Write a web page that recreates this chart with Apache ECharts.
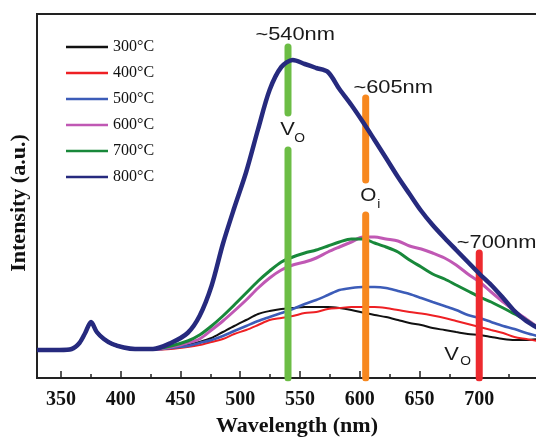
<!DOCTYPE html>
<html>
<head>
<meta charset="utf-8">
<script src="https://cdn.jsdelivr.net/npm/echarts@6/dist/echarts.min.js"></script>
<style>
  html, body { margin: 0; padding: 0; background: #fff; }
  #main { width: 536px; height: 440px; }
</style>
</head>
<body>
<div id="main"></div>
<script>
// wavelength (nm) sample points
var wavelength = [330, 349, 359, 365.5, 370.3, 375.2, 380, 386, 393, 402.6, 412,
  427, 442, 456, 466, 476, 485.5, 495, 505, 515, 524.6, 534.4, 544, 554, 563.6,
  573.4, 583, 593, 602.7, 612.4, 622, 632, 641.7, 651.5, 661, 671, 680.7, 690.5,
  700.3, 710, 720, 729.5, 739.3, 749];

// intensity (a.u.) per annealing temperature
var s300 = [28, 28, 29, 35, 45, 56, 46, 39, 34, 30.5, 29,
  28.5, 30, 33, 36, 40, 46, 52, 58, 64, 67, 69, 70, 71, 71,
  71, 70, 68, 65.5, 63, 61, 58, 55, 53, 50, 48, 46, 44,
  43, 41, 39, 38, 38, 39];
var s400 = [28, 28, 29, 35, 45, 56, 46, 39, 34, 30.5, 29,
  28.5, 29, 31, 33, 36, 39, 44, 48, 53, 58, 60, 62, 65, 66,
  69, 70, 71, 71, 71, 70, 68, 66, 64.5, 62.5, 60, 57, 54,
  51, 48, 45, 41, 39, 37];
var s500 = [28, 28, 29, 35, 45, 56, 46, 39, 34, 30.5, 29,
  28.5, 30, 32, 35, 38, 42, 47, 52, 57, 61, 65, 69, 74, 78,
  83, 88, 90, 91, 91, 90, 87, 84, 80, 76, 72, 68, 63,
  60, 56, 52, 49, 45, 42];
var s600 = [28, 28, 29, 35, 45, 56, 46, 39, 34, 30.5, 29,
  28.5, 31, 35, 39, 48, 57, 67, 78, 90, 100, 108, 113, 116, 120,
  126, 131, 136, 141, 141, 139, 137, 132, 129, 125, 120, 113, 104,
  96, 86, 76, 67, 59, 51];
var s700 = [28, 28, 29, 35, 45, 56, 46, 39, 34, 30.5, 29,
  29, 32, 37, 43, 52, 62, 73, 85, 97, 107, 116, 121, 125, 128,
  132, 136, 139, 139, 135, 131, 126, 118, 111, 104, 99, 93, 87,
  81, 76, 70, 64, 58, 50];
var s800 = [28, 28, 29, 35, 45, 56, 46, 39, 34, 30.5, 29,
  29, 35, 45, 62, 92, 134, 170, 206, 249, 288, 311, 318, 314, 310,
  306, 289, 273, 256, 238, 220, 201, 184, 167, 153, 140, 128, 116,
  104, 93, 80, 67, 57, 50];

var seriesNames = ['300°C', '400°C', '500°C', '600°C', '700°C', '800°C'];
var seriesValues = [s300, s400, s500, s600, s700, s800];
var seriesColors = ['#111111', '#ee2024', '#3c5cb8', '#c058b4', '#18883a', '#262a7e'];
var seriesWidths = [2, 2, 2.6, 3, 3, 4.5];

// x ticks
var majorTicks = [350, 400, 450, 500, 550, 600, 650, 700];
var minorTicks = [375, 425, 475, 525, 575, 625, 675, 725];

// marker bars: wavelength and [from, to] intensity segments
var markerX = [540, 605, 700];
var markerSegments = [
  [[0, 228], [265, 331]],
  [[0, 163], [198, 280]],
  [[0, 125]]
];
var markerColors = ['#6cbd45', '#f7881f', '#ed2a2f'];

// annotation texts: [text, wavelength, intensity, fontSize, align]
var notes = [
  ['~540nm', 546, 343, 19, 'center'],
  ['~605nm', 628, 290, 19, 'center'],
  ['~700nm', 714.5, 135, 19, 'center'],
  ['V', 533.6, 248, 19, 'left'],
  ['O', 545.2, 239, 12, 'left'],
  ['O', 600.5, 182, 18, 'left'],
  ['i', 614.7, 173, 12, 'left'],
  ['V', 670.8, 23, 19, 'left'],
  ['O', 684.2, 16, 12, 'left']
];

var myChart = echarts.init(document.getElementById('main'));

var series = [];
seriesNames.forEach(function (name, k) {
  series.push({
    name: name,
    type: 'line',
    xAxisIndex: 0,
    symbol: 'none',
    smooth: 0.3,
    z: k === 5 ? 5 : 2,
    lineStyle: { color: seriesColors[k], width: seriesWidths[k] },
    itemStyle: { color: seriesColors[k] },
    data: wavelength.map(function (w, i) { return [w, seriesValues[k][i]]; })
  });
});
markerX.forEach(function (x, k) {
  markerSegments[k].forEach(function (seg) {
    series.push({
      type: 'line',
      xAxisIndex: 0,
      symbol: 'none',
      silent: true,
      z: 4,
      lineStyle: { color: markerColors[k], width: 7, cap: 'round' },
      data: [[x, seg[0]], [x, seg[1]]]
    });
  });
});

var option = {
  animation: false,
  grid: {
    left: 37, top: 14, width: 502, height: 364,
    outerBoundsMode: 'none', containLabel: false,
    show: true, borderColor: '#222', borderWidth: 2
  },
  legend: {
    orient: 'vertical',
    left: 61, top: 34,
    data: seriesNames,
    icon: 'rect',
    itemWidth: 42, itemHeight: 2.5,
    itemGap: 10,
    textStyle: { fontFamily: 'Liberation Serif', fontSize: 16, lineHeight: 16, color: '#111' }
  },
  xAxis: [{
    type: 'value', min: 330, max: 750, position: 'bottom',
    axisLine: { lineStyle: { color: '#222', width: 2 } },
    axisTick: { inside: true, length: 7, customValues: majorTicks, lineStyle: { color: '#222', width: 1.5 } },
    axisLabel: {
      customValues: majorTicks, margin: 12,
      fontFamily: 'Liberation Serif', fontWeight: 'bold', fontSize: 20, color: '#111'
    },
    splitLine: { show: false },
    name: 'Wavelength (nm)', nameLocation: 'middle', nameGap: 37,
    nameTextStyle: { fontFamily: 'Liberation Serif', fontWeight: 'bold', fontSize: 22, color: '#111', padding: [0, 0, 0, 18] }
  }, {
    type: 'value', min: 330, max: 750, position: 'bottom',
    axisLine: { show: false },
    axisTick: { inside: true, length: 4, customValues: minorTicks, lineStyle: { color: '#222', width: 1.5 } },
    axisLabel: { show: false },
    splitLine: { show: false }
  }],
  yAxis: {
    type: 'value', min: 0, max: 364,
    axisLine: { show: true, lineStyle: { color: '#222', width: 2 } },
    axisTick: { show: false },
    axisLabel: { show: false },
    splitLine: { show: false },
    name: 'Intensity (a.u.)', nameLocation: 'middle', nameGap: 7,
    nameTextStyle: { fontFamily: 'Liberation Serif', fontWeight: 'bold', fontSize: 22, color: '#111', padding: [0, 14, 0, 0] }
  },
  series: series
};

myChart.setOption(option);

var texts = notes.map(function (n) {
  var p = myChart.convertToPixel({ xAxisIndex: 0, yAxisIndex: 0 }, [n[1], n[2]]);
  return {
    type: 'text', x: p[0], y: p[1], scaleX: 1.15, z: 10,
    style: {
      text: n[0], fontFamily: 'Liberation Sans', fontSize: n[3],
      fill: '#1a1a1a', align: n[4], verticalAlign: 'middle'
    }
  };
});
myChart.setOption({ graphic: texts });
</script>
</body>
</html>
